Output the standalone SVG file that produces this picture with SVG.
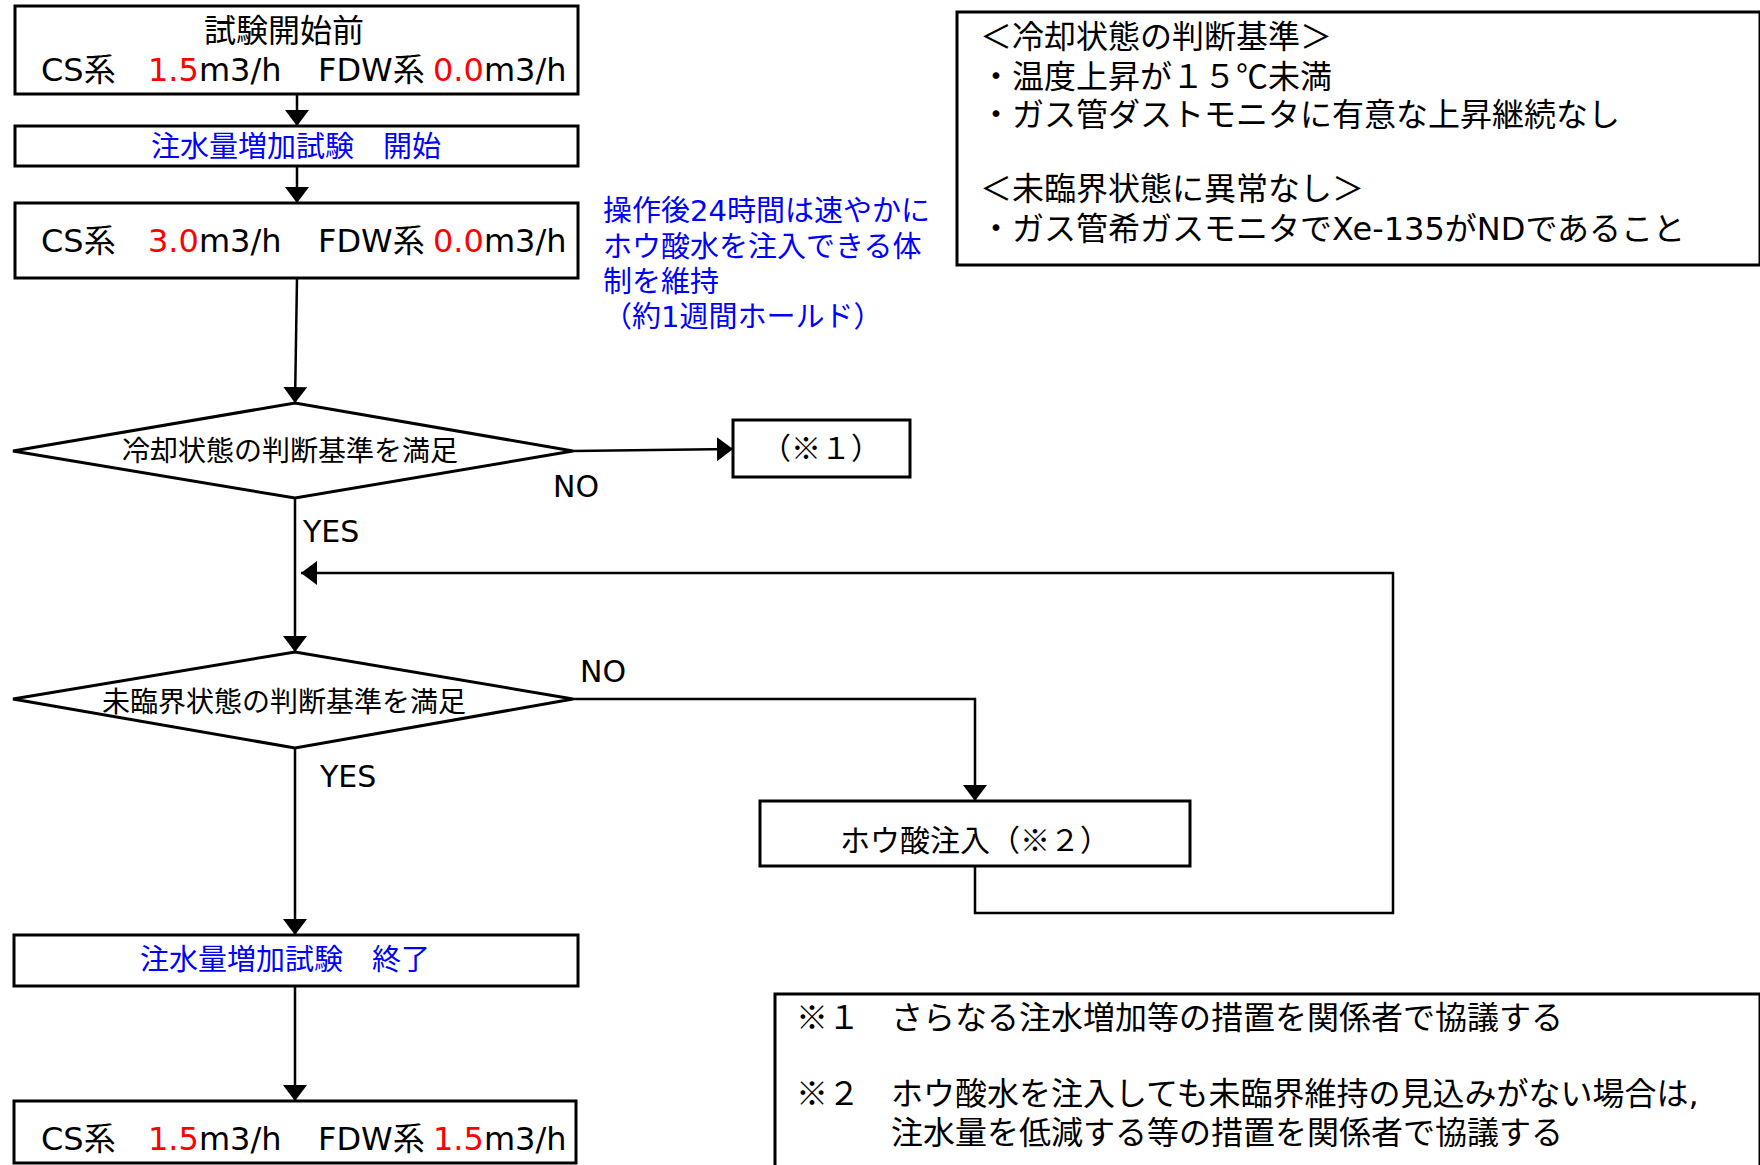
<svg xmlns="http://www.w3.org/2000/svg" width="1760" height="1165" viewBox="0 0 1760 1165">
<style>
  text { font-family: "DejaVu Sans", "Noto Sans CJK JP", sans-serif; fill: #000; }
  .jp { font-family: "Noto Sans CJK JP", "DejaVu Sans", sans-serif; }
  .box { fill: #fff; stroke: #000; stroke-width: 3; }
  .conn { fill: none; stroke: #000; stroke-width: 2.5; }
  .red { fill: #ff0000; }
  .blue { fill: #0000ff; }
  .f32 { font-size: 32px; }
  .f30 { font-size: 30px; }
  .f29 { font-size: 29px; }
  .f28 { font-size: 28px; }
  .mid { text-anchor: middle; }
</style>
<defs>
  <marker id="ah" viewBox="0 0 16 24" refX="16" refY="12" markerWidth="16" markerHeight="24" markerUnits="userSpaceOnUse" orient="auto">
    <path d="M0,0 L16,12 L0,24 z" fill="#000"/>
  </marker>
</defs>
<rect width="1760" height="1165" fill="#fff"/>

<g id="connectors">
  <path class="conn" d="M297,94 L297,126" marker-end="url(#ah)"/>
  <path class="conn" d="M297,166 L297,203" marker-end="url(#ah)"/>
  <path class="conn" d="M297,278 L295,403" marker-end="url(#ah)"/>
  <path class="conn" d="M573,451 L733,449" marker-end="url(#ah)"/>
  <path class="conn" d="M295,498 L295,652" marker-end="url(#ah)"/>
  <path class="conn" d="M573,699 L975,699 L975,801" marker-end="url(#ah)"/>
  <path class="conn" d="M975,866 L975,913 L1393,913 L1393,573 L301,573" marker-end="url(#ah)"/>
  <path class="conn" d="M295,748 L295,935" marker-end="url(#ah)"/>
  <path class="conn" d="M295,986 L295,1101" marker-end="url(#ah)"/>
  <text class="f30" x="553" y="497">NO</text>
  <text class="f30" x="303" y="542">YES</text>
  <text class="f30" x="580" y="682">NO</text>
  <text class="f30" x="320" y="787">YES</text>
</g>

<g id="before">
  <rect class="box" x="15" y="6" width="563" height="88"/>
  <text class="f32 mid" x="284" y="42">試験開始前</text>
  <text class="f32" y="81"><tspan x="41">CS系</tspan><tspan x="148" class="red">1.5</tspan><tspan>m3/h</tspan><tspan x="318">FDW系</tspan><tspan x="433" class="red">0.0</tspan><tspan>m3/h</tspan></text>
</g>

<g id="start">
  <rect class="box" x="15" y="126" width="563" height="40"/>
  <text class="f29 mid blue" x="296" y="157">注水量増加試験　開始</text>
</g>

<g id="increase">
  <rect class="box" x="15" y="203" width="563" height="75"/>
  <text class="f32" y="252"><tspan x="41">CS系</tspan><tspan x="148" class="red">3.0</tspan><tspan>m3/h</tspan><tspan x="318">FDW系</tspan><tspan x="433" class="red">0.0</tspan><tspan>m3/h</tspan></text>
</g>

<g id="hold-note">
  <text class="f29 blue" x="603" y="221">操作後24時間は速やかに</text>
  <text class="f29 blue" x="603" y="257">ホウ酸水を注入できる体</text>
  <text class="f29 blue" x="603" y="292">制を維持</text>
  <text class="f29 blue" x="603" y="327">（約1週間ホールド）</text>
</g>

<g id="criteria">
  <rect class="box" x="957" y="12" width="803" height="253"/>
  <text class="f32 jp" x="980" y="48">＜冷却状態の判断基準＞</text>
  <text class="f32 jp" x="980" y="88">・温度上昇が１５℃未満</text>
  <text class="f32 jp" x="980" y="126">・ガス管ダストモニタに有意な上昇継続なし</text>
  <text class="f32 jp" x="980" y="200">＜未臨界状態に異常なし＞</text>
  <text class="f32 jp" x="980" y="240">・ガス管希ガスモニタで<tspan font-family="DejaVu Sans">Xe-135</tspan>が<tspan font-family="DejaVu Sans">ND</tspan>であること</text>
</g>

<g id="cooling-check">
  <polygon class="box" points="13,451 295,403 573,451 295,498"/>
  <text class="f28 mid" x="290" y="461">冷却状態の判断基準を満足</text>
</g>

<g id="note1-ref">
  <rect class="box" x="733" y="420" width="177" height="57"/>
  <text class="f30 mid jp" x="821" y="459">（※１）</text>
</g>

<g id="subcrit-check">
  <polygon class="box" points="13,699 295,652 573,699 295,748"/>
  <text class="f28 mid" x="284" y="712">未臨界状態の判断基準を満足</text>
</g>

<g id="boric">
  <rect class="box" x="760" y="801" width="430" height="65"/>
  <text class="f30 mid jp" x="975" y="851">ホウ酸注入（※２）</text>
</g>

<g id="end">
  <rect class="box" x="14" y="935" width="564" height="51"/>
  <text class="f29 mid blue" x="285" y="970">注水量増加試験　終了</text>
</g>

<g id="after">
  <rect class="box" x="14" y="1101" width="562" height="62"/>
  <text class="f32" y="1150"><tspan x="41">CS系</tspan><tspan x="148" class="red">1.5</tspan><tspan>m3/h</tspan><tspan x="318">FDW系</tspan><tspan x="433" class="red">1.5</tspan><tspan>m3/h</tspan></text>
</g>

<g id="notes">
  <rect class="box" x="775" y="994" width="985" height="180"/>
  <text class="f32 jp" x="796" y="1029">※１</text>
  <text class="f32 jp" x="891" y="1029">さらなる注水増加等の措置を関係者で協議する</text>
  <text class="f32 jp" x="796" y="1105">※２</text>
  <text class="f32 jp" x="891" y="1105">ホウ酸水を注入しても未臨界維持の見込みがない場合は<tspan font-family="DejaVu Sans">,</tspan></text>
  <text class="f32 jp" x="891" y="1144">注水量を低減する等の措置を関係者で協議する</text>
</g>
</svg>
